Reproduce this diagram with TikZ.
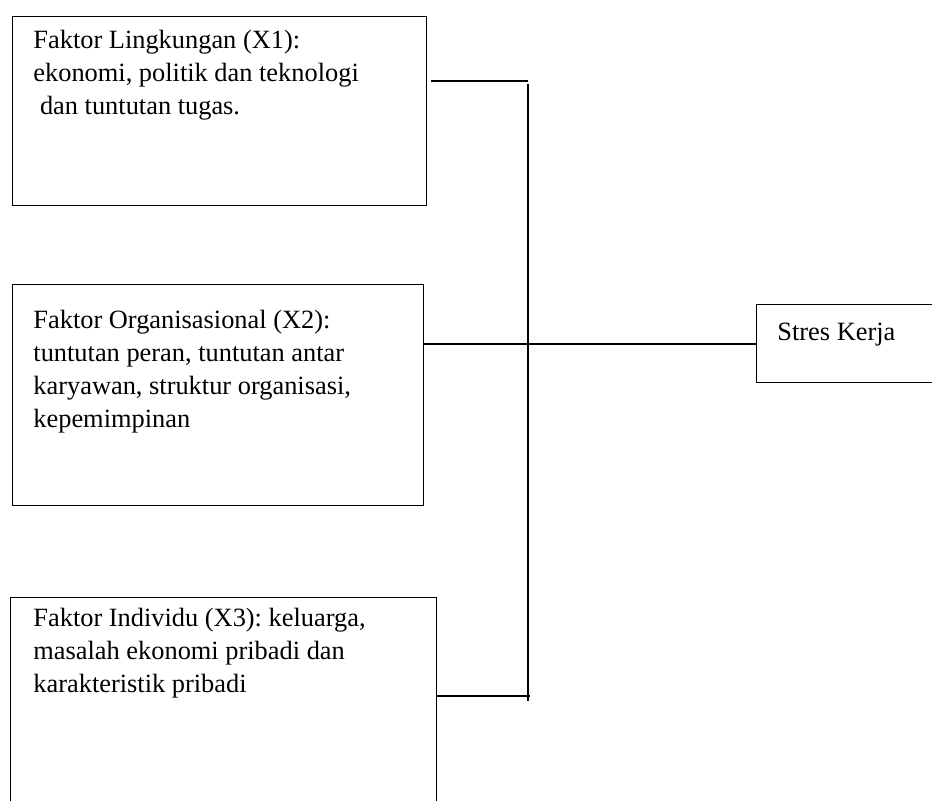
\documentclass[tikz,border=0pt]{standalone}
\usepackage{fontspec}
\setmainfont{Liberation Serif}
\usetikzlibrary{calc,positioning}
\frenchspacing
\tikzset{
  factorbox/.style={draw=black, rectangle, line width=0.65pt, inner sep=0pt, anchor=north west},
  factortext/.style={anchor=north west, inner sep=0pt, align=left, font=\fontsize{12.4}{15.5}\selectfont},
  link/.style={line width=0.65pt}
}

\begin{document}
\begin{tikzpicture}[x=0.47pt, y=-0.47pt]
  \useasboundingbox (0,0) rectangle (932,800);

  \node [factorbox, minimum width=194.6pt, minimum height=88.8pt] (lingkungan) at (12,16) {};
  \node [factorbox, minimum width=193.2pt, minimum height=103.9pt] (organisasi) at (12,284) {};
  \node [factorbox, minimum width=200.2pt, minimum height=109.5pt] (individu) at (10,597) {};
  \node [factorbox, minimum width=88.8pt, minimum height=36.7pt] (stres) at (756,304) {};

  \node [factortext] (lingkungantext) at ($(lingkungan.north west)+(21,14)$) {Faktor Lingkungan (X1):\\ekonomi, politik dan teknologi\\\hspace{0.25em}dan tuntutan tugas.};
  \node [factortext] (organisasitext) at ($(organisasi.north west)+(21,26)$) {Faktor Organisasional (X2):\\tuntutan peran, tuntutan antar\\karyawan, struktur organisasi,\\kepemimpinan};
  \node [factortext] (individutext) at ($(individu.north west)+(23,11)$) {Faktor Individu (X3): keluarga,\\masalah ekonomi pribadi dan\\karakteristik pribadi};
  \node [factortext] (strestext) at ($(stres.north west)+(21,19)$) {Stres Kerja};

  \coordinate (jtop) at (528,81);
  \coordinate (jmid) at (528,344);
  \coordinate (jlow) at (530,696);
  \coordinate (jend) at (528,701);

  \draw [link] ($(lingkungan.east |- jtop)+(4,0)$) -- (jtop);
  \draw [link] ($(jtop)+(0,3)$) -- (jend);
  \draw [link] (organisasi.east |- jmid) -- (stres.west |- jmid);
  \draw [link] (individu.east |- jlow) -- (jlow);
\end{tikzpicture}
\end{document}
